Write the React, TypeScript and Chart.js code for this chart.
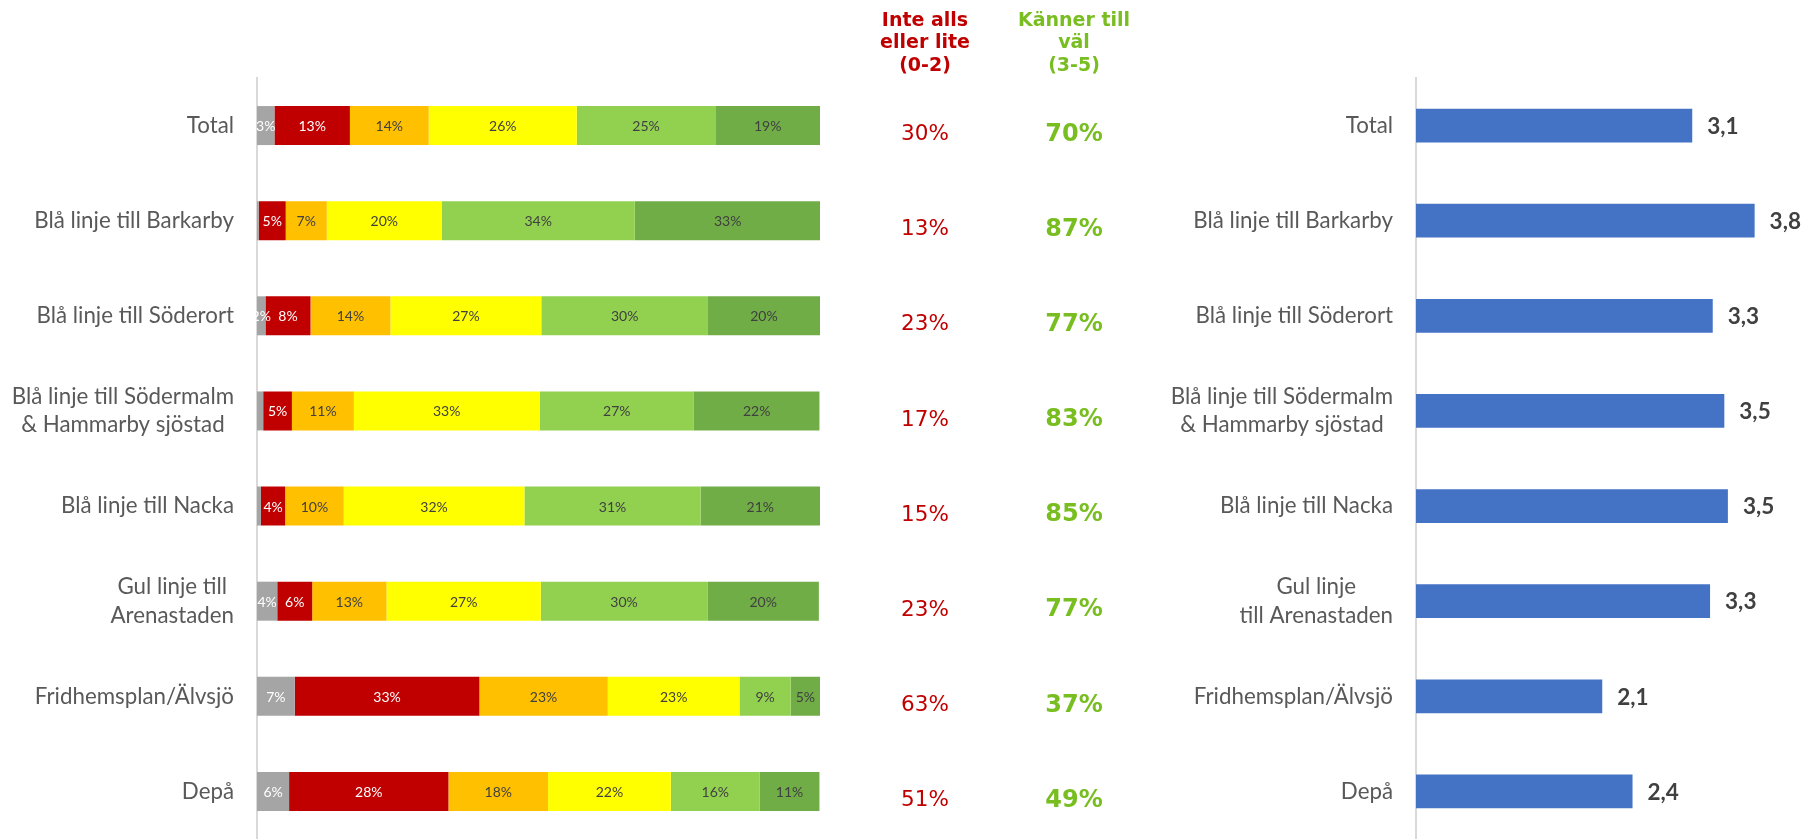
import React, { useEffect, useRef } from 'react';
import { Chart, registerables } from 'chart.js';

Chart.register(...registerables);

// ---------- data ----------
const leftCategories: string[][] = [
  ['Total'],
  ['Blå linje till Barkarby'],
  ['Blå linje till Söderort'],
  ['Blå linje till Södermalm', '& Hammarby sjöstad'],
  ['Blå linje till Nacka'],
  ['Gul linje till', 'Arenastaden'],
  ['Fridhemsplan/Älvsjö'],
  ['Depå'],
];

const rightCategories: string[][] = [
  ['Total'],
  ['Blå linje till Barkarby'],
  ['Blå linje till Söderort'],
  ['Blå linje till Södermalm', '& Hammarby sjöstad'],
  ['Blå linje till Nacka'],
  ['Gul linje', 'till Arenastaden'],
  ['Fridhemsplan/Älvsjö'],
  ['Depå'],
];

const seriesNames = ['0', '1', '2', '3', '4', '5'];
const series0 = [3.1, 0.3, 1.5, 1.1, 0.7, 3.6, 6.7, 5.7];
const series1 = [13.4, 4.8, 8.0, 5.1, 4.3, 6.2, 32.8, 28.3];
const series2 = [14.0, 7.3, 14.2, 11.0, 10.4, 13.2, 22.8, 17.7];
const series3 = [26.3, 20.4, 26.8, 33.0, 32.1, 27.4, 23.4, 21.8];
const series4 = [24.6, 34.3, 29.6, 27.4, 31.3, 29.6, 9.1, 15.8];
const series5 = [18.6, 33.0, 19.9, 22.3, 21.2, 19.8, 5.2, 10.6];
const seriesColors = ['#A5A5A5', '#C00000', '#FFC000', '#FFFF00', '#92D050', '#70AD47'];
const labelColors = ['#FFFFFF', '#FFFFFF', '#404040', '#404040', '#404040', '#404040'];

const lowShare = [30, 13, 23, 17, 15, 23, 63, 51];
const highShare = [70, 87, 77, 83, 85, 77, 37, 49];
const lowHeader = ['Inte alls', 'eller lite', '(0-2)'];
const highHeader = ['Känner till', 'väl', '(3-5)'];

const meanValues = [3.1, 3.8, 3.33, 3.46, 3.5, 3.3, 2.09, 2.43];

// ---------- helpers ----------
const LABEL_FONT = "22.3px Lato";
const LABEL_COLOR = '#595959';
const LINE_H = 28.5;

function drawCategoryLabels(chart: any, cats: string[][], rightEdge: number) {
  const ctx = chart.ctx;
  const yScale = chart.scales.y;
  ctx.save();
  ctx.font = LABEL_FONT;
  ctx.fillStyle = LABEL_COLOR;
  ctx.textAlign = 'center';
  ctx.textBaseline = 'middle';
  cats.forEach((lines, i) => {
    const yc = yScale.getPixelForValue(i);
    const widest = Math.max(...lines.map((l) => ctx.measureText(l).width));
    const cx = rightEdge - widest / 2;
    const y0 = yc - ((lines.length - 1) * LINE_H) / 2;
    lines.forEach((l, k) => ctx.fillText(l, cx, y0 + k * LINE_H));
  });
  ctx.restore();
}

function LeftChart() {
  const ref = useRef<HTMLCanvasElement>(null);
  useEffect(() => {
    const all = [series0, series1, series2, series3, series4, series5];
    const textPlugin = {
      id: 'leftText',
      afterDraw(chart: any) {
        const ctx = chart.ctx;
        // segment labels
        ctx.save();
        ctx.font = '14px Lato';
        ctx.textAlign = 'center';
        ctx.textBaseline = 'middle';
        all.forEach((vals, di) => {
          const meta = chart.getDatasetMeta(di);
          meta.data.forEach((bar: any, i: number) => {
            const v = vals[i];
            if (v < 1.5) return;
            ctx.fillStyle = labelColors[di];
            ctx.fillText(Math.round(v) + '%', (bar.x + bar.base) / 2, bar.y + 1);
          });
        });
        ctx.restore();

        drawCategoryLabels(chart, leftCategories, 234);

        // middle columns
        const yScale = chart.scales.y;
        const lowX = 925;
        const highX = 1074;
        ctx.save();
        ctx.textAlign = 'center';
        ctx.textBaseline = 'middle';
        ctx.font = "bold 19px 'DejaVu Sans'";
        lowHeader.forEach((t, k) => {
          ctx.fillStyle = '#C00000';
          ctx.fillText(t, lowX, 21 + k * 22.5);
        });
        highHeader.forEach((t, k) => {
          ctx.fillStyle = '#78BE20';
          ctx.fillText(t, highX, 21 + k * 22.5);
        });
        lowShare.forEach((v, i) => {
          const y = yScale.getPixelForValue(i) + 9;
          ctx.font = "21.5px 'DejaVu Sans'";
          ctx.fillStyle = '#C00000';
          ctx.fillText(v + '%', lowX, y);
          ctx.font = "bold 24px 'DejaVu Sans'";
          ctx.fillStyle = '#78BE20';
          ctx.fillText(highShare[i] + '%', highX, y);
        });
        ctx.restore();
      },
    };

    const chart = new Chart(ref.current as HTMLCanvasElement, {
      type: 'bar',
      data: {
        labels: leftCategories.map((l) => l.join(' ')),
        datasets: all.map((vals, di) => ({
          label: seriesNames[di],
          data: vals,
          backgroundColor: seriesColors[di],
          borderWidth: 0,
          barPercentage: 0.41,
          categoryPercentage: 1,
        })),
      },
      options: {
        indexAxis: 'y',
        responsive: false,
        animation: false,
        layout: { padding: { top: 78, right: 330, bottom: 0, left: 0 } },
        plugins: { legend: { display: false }, tooltip: { enabled: false } },
        scales: {
          x: { stacked: true, min: 0, max: 100, display: false },
          y: {
            stacked: true,
            grid: { display: false },
            border: { display: true, color: '#D9D9D9', width: 2 },
            ticks: { display: false },
            afterFit: (s: any) => {
              s.width = 257;
            },
          },
        },
      },
      plugins: [textPlugin],
    } as any);
    return () => chart.destroy();
  }, []);
  return (
    <canvas
      ref={ref}
      width={1150}
      height={839}
      style={{ position: 'absolute', left: 0, top: 0, width: 1150, height: 839 }}
    />
  );
}

function RightChart() {
  const ref = useRef<HTMLCanvasElement>(null);
  useEffect(() => {
    const valuePlugin = {
      id: 'rightText',
      afterDraw(chart: any) {
        const ctx = chart.ctx;
        ctx.save();
        ctx.font = 'bold 22.5px Lato';
        ctx.fillStyle = '#404040';
        ctx.textAlign = 'left';
        ctx.textBaseline = 'middle';
        const meta = chart.getDatasetMeta(0);
        meta.data.forEach((bar: any, i: number) => {
          ctx.fillText(meanValues[i].toFixed(1).replace('.', ','), bar.x + 15, bar.y + 1);
        });
        ctx.restore();
        drawCategoryLabels(chart, rightCategories, 243);
      },
    };
    const chart = new Chart(ref.current as HTMLCanvasElement, {
      type: 'bar',
      data: {
        labels: rightCategories.map((l) => l.join(' ')),
        datasets: [
          {
            label: 'Medelvärde',
            data: meanValues,
            backgroundColor: '#4472C4',
            borderWidth: 0,
            barPercentage: 0.355,
            categoryPercentage: 1,
          },
        ],
      },
      options: {
        indexAxis: 'y',
        responsive: false,
        animation: false,
        layout: { padding: { top: 78, right: 0, bottom: 0, left: 0 } },
        plugins: { legend: { display: false }, tooltip: { enabled: false } },
        scales: {
          x: { min: 0, max: 4.5, display: false },
          y: {
            grid: { display: false },
            border: { display: true, color: '#D9D9D9', width: 2 },
            ticks: { display: false },
            afterFit: (s: any) => {
              s.width = 266;
            },
          },
        },
      },
      plugins: [valuePlugin],
    } as any);
    return () => chart.destroy();
  }, []);
  return (
    <canvas
      ref={ref}
      width={667}
      height={839}
      style={{ position: 'absolute', left: 1150, top: 0, width: 667, height: 839 }}
    />
  );
}

export default function App() {
  return (
    <div
      style={{
        position: 'absolute',
        left: 0,
        top: 0,
        width: 1817,
        height: 839,
        background: '#FFFFFF',
        overflow: 'hidden',
      }}
    >
      <LeftChart />
      <RightChart />
    </div>
  );
}
